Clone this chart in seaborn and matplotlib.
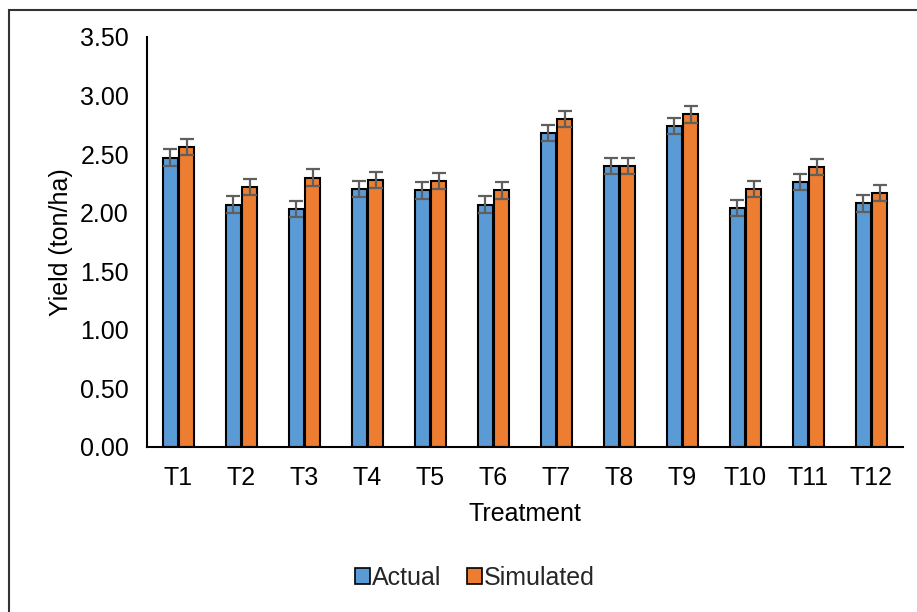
import matplotlib
matplotlib.use('Agg')
import matplotlib.pyplot as plt
from matplotlib.patches import Rectangle, Patch
import seaborn as sns
import pandas as pd
import numpy as np

# data
treatments = ['T1', 'T2', 'T3', 'T4', 'T5', 'T6', 'T7', 'T8', 'T9', 'T10', 'T11', 'T12']
actual = [2.47, 2.07, 2.03, 2.20, 2.19, 2.07, 2.68, 2.40, 2.74, 2.04, 2.26, 2.08]
simulated = [2.56, 2.22, 2.30, 2.28, 2.27, 2.19, 2.80, 2.40, 2.84, 2.20, 2.39, 2.17]
err_actual = [0.07] * 12
err_simulated = [0.07] * 12

df = pd.DataFrame({
    'Treatment': treatments * 2,
    'Yield': actual + simulated,
    'Series': ['Actual'] * 12 + ['Simulated'] * 12,
})

sns.set_theme(style='white')
plt.rcParams['font.family'] = ['Liberation Sans', 'DejaVu Sans']

colors = {'Actual': '#5B9BD5', 'Simulated': '#ED7D31'}
FS = 18

fig = plt.figure(figsize=(9.17, 6.12), dpi=100)
ax = fig.add_axes([147/917, 1-447/612, 756/917, 410/612])

sns.barplot(data=df, x='Treatment', y='Yield', hue='Series', palette=colors,
            saturation=1, width=0.52, gap=0.1, edgecolor='black', linewidth=1.5,
            errorbar=None, legend=False, ax=ax)

# error bars at the bar centres
errs = {'Actual': err_actual, 'Simulated': err_simulated}
for cont, name in zip(ax.containers, ['Actual', 'Simulated']):
    xs = [p.get_x() + p.get_width() / 2 for p in cont.patches]
    ys = [p.get_height() for p in cont.patches]
    ax.errorbar(xs, ys, yerr=errs[name], fmt='none', ecolor='#5f5f5f',
                elinewidth=1.6, capsize=5, capthick=1.6, zorder=5)

ax.set_ylim(0, 3.5)
ax.set_xlim(-0.5, 11.5)
ax.set_yticks(np.arange(0, 3.51, 0.5))
ax.set_yticklabels([f'{v:.2f}' for v in np.arange(0, 3.51, 0.5)])
ax.tick_params(axis='both', labelsize=FS, length=0, colors='black')
ax.tick_params(axis='y', pad=13)
ax.tick_params(axis='x', pad=14)
ax.set_xlabel('Treatment', fontsize=FS, labelpad=8, color='black')
ax.set_ylabel('Yield (ton/ha)', fontsize=FS, labelpad=5, color='black')

for s in ['top', 'right']:
    ax.spines[s].set_visible(False)
for s in ['left', 'bottom']:
    ax.spines[s].set_color('black')
    ax.spines[s].set_linewidth(1.5)

handles = [Patch(facecolor=colors[n], edgecolor='black', linewidth=1.2, label=n)
           for n in ['Actual', 'Simulated']]
fig.legend(handles=handles, loc='center', bbox_to_anchor=(475/917, 1-578/612),
           ncol=2, frameon=False, fontsize=FS, handlelength=0.6, handleheight=0.6,
           handletextpad=0.1, columnspacing=1.0)

# chart border (extends past the right/bottom edge as in the reference)
fig.patches.append(Rectangle((9/917, -0.05), 1.1, 1-10/612 + 0.05,
                             transform=fig.transFigure, fill=False,
                             edgecolor='#333333', linewidth=1.5))

fig.savefig('out.png', dpi=100)
